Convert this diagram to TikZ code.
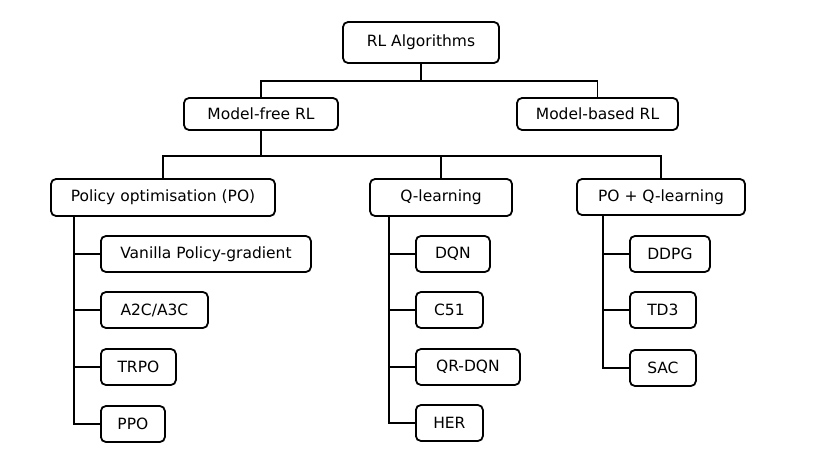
\documentclass[tikz,border=0pt]{standalone}
\usepackage{fontspec}
\setmainfont{DejaVu Sans}

\begin{document}
\begin{tikzpicture}[x=1pt,y=-1pt]

\tikzstyle{algo} = [rectangle, rounded corners=5pt, draw=black, line width=1.8pt, inner sep=0pt, font=\fontsize{15.5}{18}\selectfont]
\tikzstyle{leaf} = [algo, anchor=west, minimum height=36pt]
\tikzstyle{link} = [line width=1.8pt]

\useasboundingbox (0,0) rectangle (814,476);

\node[algo, minimum width=156pt, minimum height=41pt] (root) at (421, 42.5) {RL Algorithms};

\node[algo, minimum width=154pt, minimum height=32pt] (mf) at (261, 114) {Model-free RL};
\node[algo, minimum width=161pt, minimum height=32pt] (mb) at (597.5, 114) {Model-based RL};

\node[algo, minimum width=224pt, minimum height=37pt] (po) at (163, 197.5) {Policy optimisation (PO)};
\node[algo, minimum width=142pt, minimum height=37pt] (ql) at (441, 197.5) {Q-learning};
\node[algo, minimum width=168pt, minimum height=36pt] (poq) at (661, 197) {PO + Q-learning};

\node[leaf, minimum width=210pt] (vpg) at (100, 254) {Vanilla Policy-gradient};
\node[leaf, minimum width=107pt] (a2c) at (100, 310) {A2C/A3C};
\node[leaf, minimum width=75pt] (trpo) at (100, 367) {TRPO};
\node[leaf, minimum width=64pt] (ppo) at (100, 424) {PPO};

\node[leaf, minimum width=74pt] (dqn) at (415, 254) {DQN};
\node[leaf, minimum width=67pt] (c51) at (415, 310) {C51};
\node[leaf, minimum width=104pt] (qrdqn) at (415, 367) {QR-DQN};
\node[leaf, minimum width=67pt] (her) at (415, 423) {HER};

\node[leaf, minimum width=80pt] (ddpg) at (629, 254) {DDPG};
\node[leaf, minimum width=66pt] (td3) at (629, 310) {TD3};
\node[leaf, minimum width=66pt] (sac) at (629, 368) {SAC};

\coordinate (bus1) at (421, 81);
\coordinate (bus2) at (261, 156);

\draw[link] (root.south) -- (bus1);
\draw[link] (mf.north) |- (bus1) -| (mb.north);

\draw[link] (mf.south) -- (bus2);
\draw[link] (po.north) |- (bus2) -| (poq.north);
\draw[link] (ql.north) |- (bus2);

\draw[link] ([xshift=24pt]po.south west) |- (vpg.west);
\draw[link] ([xshift=24pt]po.south west) |- (a2c.west);
\draw[link] ([xshift=24pt]po.south west) |- (trpo.west);
\draw[link] ([xshift=24pt]po.south west) |- (ppo.west);

\draw[link] ([xshift=20pt]ql.south west) |- (dqn.west);
\draw[link] ([xshift=20pt]ql.south west) |- (c51.west);
\draw[link] ([xshift=20pt]ql.south west) |- (qrdqn.west);
\draw[link] ([xshift=20pt]ql.south west) |- (her.west);

\draw[link] ([xshift=27pt]poq.south west) |- (ddpg.west);
\draw[link] ([xshift=27pt]poq.south west) |- (td3.west);
\draw[link] ([xshift=27pt]poq.south west) |- (sac.west);

\end{tikzpicture}
\end{document}
